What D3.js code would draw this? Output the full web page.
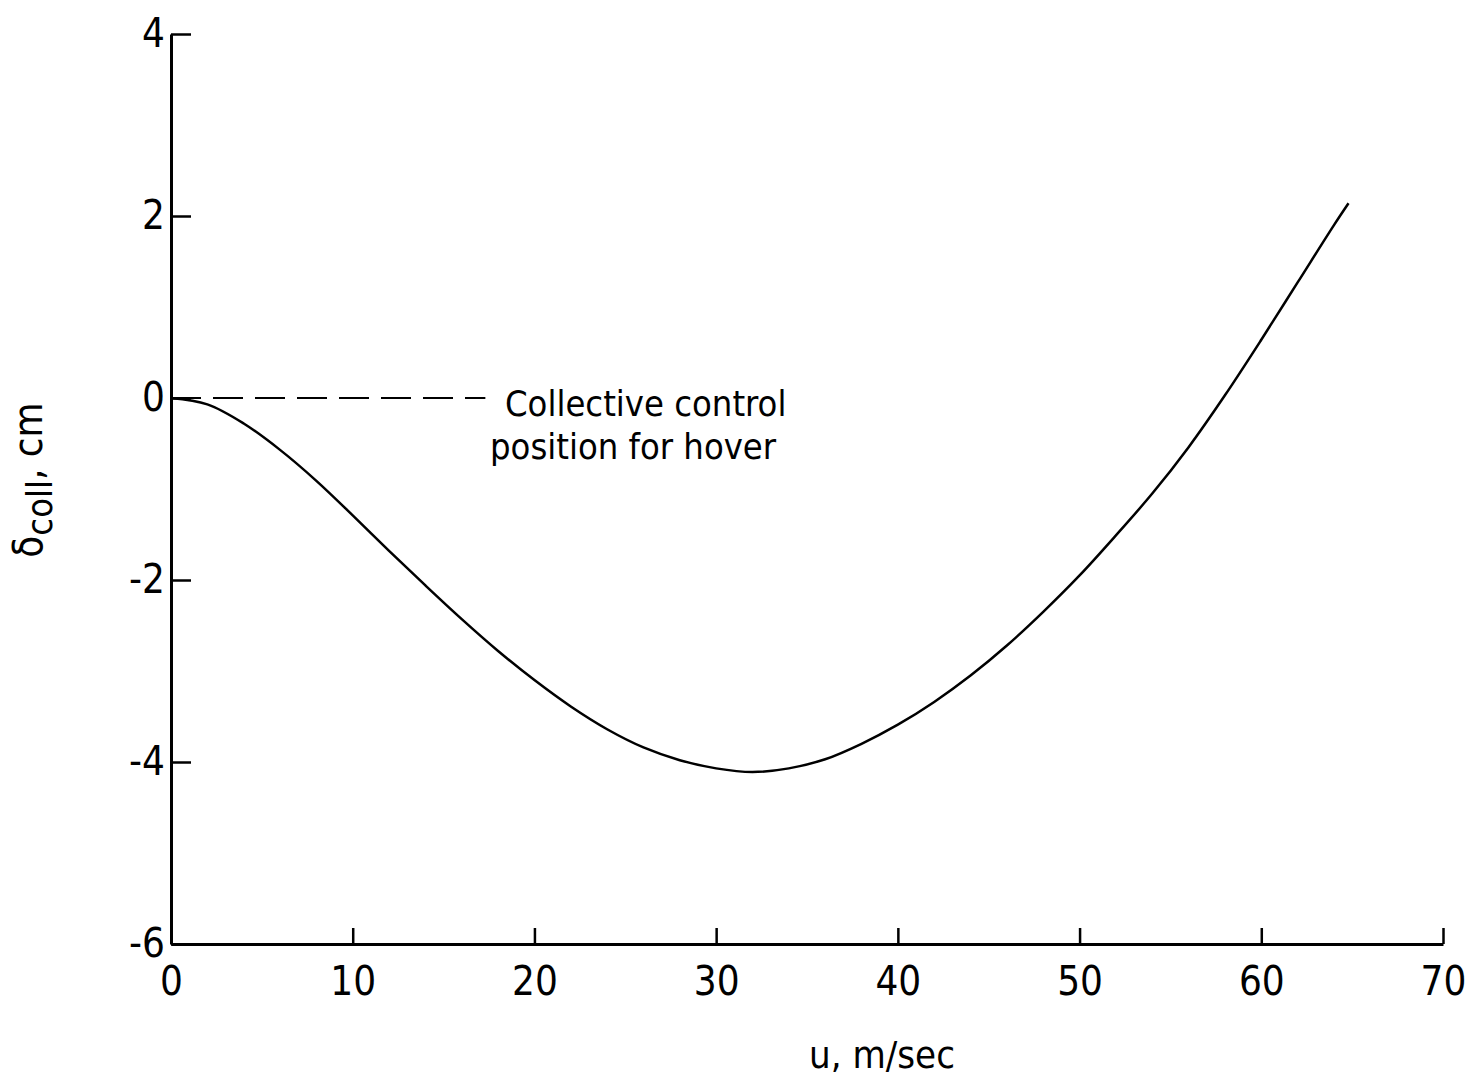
<!DOCTYPE html>
<html>
<head>
<meta charset="utf-8">
<script src="https://cdn.jsdelivr.net/npm/d3@7"></script>
<style>
  body { margin: 0; background: #fff; }
  svg text { font-family: "Liberation Sans Narrow", "DejaVu Sans Condensed", "Roboto Condensed", sans-serif; fill: #000; }
</style>
</head>
<body>
<svg id="chart" width="1469" height="1078"></svg>
<script>
// airspeed, m/sec
var speeds = [0, 2, 4, 6, 8, 10, 12, 14, 16, 18, 20, 22, 24, 26, 28, 30, 32, 34, 36, 38, 40, 42, 44, 46, 48, 50, 52, 54, 56, 58, 60, 62, 64, 64.8];
// collective control position, cm
var deltaColl = [0, -0.07, -0.28, -0.57, -0.91, -1.29, -1.68, -2.06, -2.43, -2.78, -3.10, -3.39, -3.64, -3.84, -3.98, -4.07, -4.11, -4.07, -3.97, -3.80, -3.59, -3.34, -3.05, -2.72, -2.35, -1.95, -1.51, -1.05, -0.54, 0.03, 0.64, 1.27, 1.90, 2.14];
var xTicks = [0, 10, 20, 30, 40, 50, 60, 70];
var yTicks = [-6, -4, -2, 0, 2, 4];
var hoverLevel = 0;
var hoverSpan = [0, 17.3];

var svg = d3.select("svg#chart");

var x = d3.scaleLinear().domain([0, 70]).range([171, 1443]);
var y = d3.scaleLinear().domain([-6, 4]).range([944, 34]);

var points = speeds.map(function(u, i) { return { u: u, d: deltaColl[i] }; });

// axes, ticks inside
var xAxis = svg.append("g")
    .attr("transform", "translate(0," + y(-6) + ")")
    .call(d3.axisBottom(x).tickValues(xTicks).tickSizeInner(-16).tickSizeOuter(0).tickPadding(23)
        .tickFormat(d3.format("d")));

var yAxis = svg.append("g")
    .attr("transform", "translate(" + x(0) + ",0)")
    .call(d3.axisLeft(y).tickValues(yTicks).tickSizeInner(-20).tickSizeOuter(0).tickPadding(6)
        .tickFormat(function(d) { return d < 0 ? "-" + Math.abs(d) : d; }));

svg.selectAll(".domain").attr("stroke", "#000").attr("stroke-width", 3);
svg.selectAll(".tick line").attr("stroke", "#000").attr("stroke-width", 2.5);
svg.selectAll(".tick text").attr("font-size", 40).attr("fill", "#000");
xAxis.selectAll(".tick text").attr("dy", "0.71em");

// hover reference line
svg.append("line")
    .attr("x1", x(hoverSpan[0]))
    .attr("x2", x(hoverSpan[1]))
    .attr("y1", y(hoverLevel))
    .attr("y2", y(hoverLevel))
    .attr("stroke", "#000")
    .attr("stroke-width", 2)
    .attr("stroke-dasharray", "30,12");

svg.append("text")
    .attr("x", 505)
    .attr("y", 416)
    .attr("font-size", 36)
    .text("Collective control");
svg.append("text")
    .attr("x", 490)
    .attr("y", 459)
    .attr("font-size", 36)
    .text("position for hover");

// the curve
svg.append("path")
    .datum(points)
    .attr("fill", "none")
    .attr("stroke", "#000")
    .attr("stroke-width", 2.5)
    .attr("d", d3.line()
        .x(function(d) { return x(d.u); })
        .y(function(d) { return y(d.d); })
        .curve(d3.curveCatmullRom));

// axis titles
svg.append("text")
    .attr("x", 882)
    .attr("y", 1068)
    .attr("text-anchor", "middle")
    .attr("font-size", 38)
    .text("u,  m/sec");

var yTitle = svg.append("text")
    .attr("transform", "translate(42,480) rotate(-90)")
    .attr("text-anchor", "middle")
    .attr("font-size", 40);
yTitle.append("tspan").text("δ");
yTitle.append("tspan").attr("font-size", 36).attr("dy", 10).text("coll");
yTitle.append("tspan").attr("dy", -10).text(",  cm");
</script>
</body>
</html>
